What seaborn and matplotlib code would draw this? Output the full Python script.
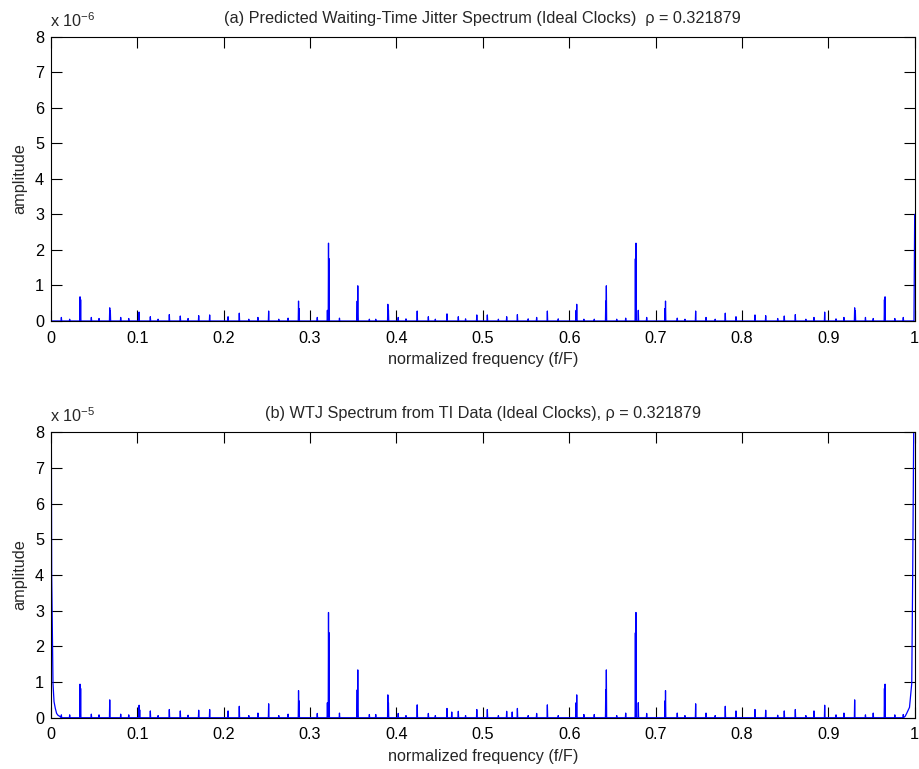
import numpy as np
import pandas as pd
import matplotlib
matplotlib.use("Agg")
import matplotlib.pyplot as plt
import seaborn as sns

RHO = 0.321879

# (a) predicted spectrum: spike frequencies (f/F) and amplitudes (units of 1e-6)
freq_a = [0.0120, 0.0216, 0.0336, 0.0343, 0.0467, 0.0556, 0.0680, 0.0687, 0.0807, 0.0900,
          0.1020, 0.1150, 0.1240, 0.1370, 0.1497, 0.1587, 0.1710, 0.1837, 0.2050, 0.2180,
          0.2290, 0.2396, 0.2520, 0.2637, 0.2745, 0.2866, 0.2873, 0.3083, 0.3200, 0.3213,
          0.3220, 0.3340, 0.3545, 0.3552, 0.3686, 0.3760, 0.3900, 0.3907, 0.4020, 0.4110,
          0.4240, 0.4369, 0.4450, 0.4585, 0.4716, 0.4800, 0.4930, 0.5052, 0.5180, 0.5276,
          0.5400, 0.5525, 0.5623, 0.5747, 0.5873, 0.6080, 0.6087, 0.6170, 0.6290, 0.6423,
          0.6430, 0.6550, 0.6654, 0.6766, 0.6773, 0.6800, 0.6897, 0.7108, 0.7115, 0.7251,
          0.7340, 0.7464, 0.7584, 0.7690, 0.7807, 0.7931, 0.8151, 0.8275, 0.8414, 0.8490,
          0.8618, 0.8740, 0.8834, 0.8958, 0.9089, 0.9181, 0.9305, 0.9313, 0.9430, 0.9520,
          0.9650, 0.9657, 0.9770, 0.9868]
amp_a = [0.10, 0.05, 0.68, 0.60, 0.10, 0.07, 0.37, 0.28, 0.10, 0.07,
         0.25, 0.12, 0.05, 0.18, 0.14, 0.07, 0.15, 0.17, 0.12, 0.22,
         0.05, 0.10, 0.28, 0.05, 0.08, 0.56, 0.35, 0.10, 0.30, 2.19,
         1.75, 0.08, 0.56, 0.99, 0.05, 0.05, 0.47, 0.30, 0.10, 0.06,
         0.28, 0.12, 0.05, 0.20, 0.12, 0.06, 0.17, 0.17, 0.05, 0.12,
         0.18, 0.06, 0.10, 0.28, 0.06, 0.30, 0.47, 0.05, 0.05, 0.56,
         0.99, 0.05, 0.08, 1.75, 2.19, 0.30, 0.10, 0.35, 0.56, 0.08,
         0.05, 0.28, 0.10, 0.05, 0.22, 0.12, 0.17, 0.15, 0.07, 0.14,
         0.18, 0.05, 0.10, 0.25, 0.06, 0.10, 0.37, 0.28, 0.10, 0.07,
         0.60, 0.68, 0.07, 0.10]
# value in the last bin (f/F = 1)
edge_a_freq = [0.9992, 1.0]
edge_a_amp = [0.0, 3.0]

# (b) spectrum from TI data: spike frequencies and amplitudes (units of 1e-5)
freq_b = [0.0120, 0.0216, 0.0336, 0.0343, 0.0467, 0.0556, 0.0680, 0.0807, 0.0900, 0.1020,
          0.1027, 0.1150, 0.1240, 0.1370, 0.1497, 0.1587, 0.1710, 0.1837, 0.2050, 0.2180,
          0.2290, 0.2396, 0.2520, 0.2637, 0.2745, 0.2866, 0.2873, 0.3083, 0.3200, 0.3213,
          0.3220, 0.3340, 0.3545, 0.3552, 0.3686, 0.3760, 0.3900, 0.3907, 0.4020, 0.4110,
          0.4240, 0.4369, 0.4450, 0.4585, 0.4640, 0.4716, 0.4800, 0.4930, 0.5052, 0.5180,
          0.5276, 0.5340, 0.5400, 0.5525, 0.5623, 0.5747, 0.5873, 0.6080, 0.6087, 0.6170,
          0.6290, 0.6423, 0.6430, 0.6550, 0.6654, 0.6766, 0.6773, 0.6800, 0.6897, 0.7108,
          0.7115, 0.7251, 0.7340, 0.7464, 0.7584, 0.7690, 0.7807, 0.7931, 0.8151, 0.8275,
          0.8414, 0.8490, 0.8618, 0.8740, 0.8834, 0.8958, 0.9089, 0.9181, 0.9305, 0.9430,
          0.9520, 0.9650, 0.9657, 0.9770, 0.9868]
amp_b = [0.08, 0.08, 0.94, 0.82, 0.10, 0.08, 0.50, 0.10, 0.08, 0.35,
         0.22, 0.19, 0.06, 0.23, 0.19, 0.07, 0.21, 0.23, 0.19, 0.32,
         0.06, 0.13, 0.39, 0.06, 0.10, 0.76, 0.47, 0.12, 0.42, 2.95,
         2.38, 0.13, 0.78, 1.34, 0.09, 0.09, 0.64, 0.42, 0.12, 0.06,
         0.36, 0.12, 0.06, 0.26, 0.16, 0.18, 0.06, 0.23, 0.23, 0.06,
         0.18, 0.16, 0.26, 0.06, 0.12, 0.36, 0.06, 0.42, 0.64, 0.09,
         0.09, 0.78, 1.34, 0.06, 0.13, 2.38, 2.95, 0.42, 0.12, 0.47,
         0.76, 0.13, 0.06, 0.39, 0.13, 0.06, 0.32, 0.19, 0.23, 0.21,
         0.07, 0.19, 0.23, 0.06, 0.19, 0.35, 0.08, 0.13, 0.50, 0.08,
         0.13, 0.82, 0.94, 0.08, 0.09]
# low-frequency (DC) leakage at both ends of the band
dc_left_freq = [0.0, 0.0008, 0.0023, 0.0035, 0.0050, 0.0065, 0.0080, 0.0100]
dc_left_amp = [12.0, 4.0, 0.96, 0.45, 0.26, 0.12, 0.07, 0.04]
dc_right_freq = [0.9890, 0.9907, 0.9940, 0.9966, 0.9977, 1.0]
dc_right_amp = [0.04, 0.12, 0.29, 0.96, 4.0, 12.0]

x_ticks = [0, 0.1, 0.2, 0.3, 0.4, 0.5, 0.6, 0.7, 0.8, 0.9, 1]
x_tick_labels = ["0", "0.1", "0.2", "0.3", "0.4", "0.5", "0.6", "0.7", "0.8", "0.9", "1"]
y_ticks = [0, 1, 2, 3, 4, 5, 6, 7, 8]

title_a = "(a) Predicted Waiting-Time Jitter Spectrum (Ideal Clocks)  \u03c1 = %.6f" % RHO
title_b = "(b) WTJ Spectrum from TI Data (Ideal Clocks), \u03c1 = %.6f" % RHO

FS = 11.7


def spectrum_trace(freqs, amps, head=None, tail=None, half_width=0.00035):
    """Join spikes into one continuous trace that returns to the floor between bins."""
    pts = []
    if head is not None:
        pts.extend(zip(*head))
    for f, a in zip(freqs, amps):
        pts.append((f - half_width, 0.0))
        pts.append((f, a))
        pts.append((f + half_width, 0.0))
    if tail is not None:
        pts.extend(zip(*tail))
    pts.sort(key=lambda p: p[0])
    return pd.DataFrame(pts, columns=["freq", "amp"])


sns.set_theme(style="white")
plt.rcParams["font.family"] = ["Liberation Sans", "DejaVu Sans"]
plt.rcParams["mathtext.fontset"] = "custom"
plt.rcParams["mathtext.rm"] = "Liberation Sans"
plt.rcParams["mathtext.it"] = "Liberation Sans:italic"
plt.rcParams["mathtext.bf"] = "Liberation Sans:bold"

fig = plt.figure(figsize=(9.19, 7.69), dpi=100, facecolor="white")
ax_a = fig.add_axes([0.0555, 0.5826, 0.9398, 0.3697])
ax_b = fig.add_axes([0.0555, 0.0667, 0.9398, 0.3711])

df_a = spectrum_trace(freq_a, amp_a, head=([0.0], [0.0]), tail=(edge_a_freq, edge_a_amp))
df_b = spectrum_trace(freq_b, amp_b, head=(dc_left_freq, dc_left_amp),
                      tail=(dc_right_freq, dc_right_amp))

panels = [(ax_a, df_a, title_a, "-6"), (ax_b, df_b, title_b, "-5")]
for ax, df, title, expo in panels:
    sns.lineplot(data=df, x="freq", y="amp", ax=ax, color="#0000ff", linewidth=0.9,
                 estimator=None, sort=False, legend=False)
    ax.set_xlim(0, 1)
    ax.set_ylim(0, 8)
    ax.set_xticks(x_ticks)
    ax.set_xticklabels(x_tick_labels)
    ax.set_yticks(y_ticks)
    ax.tick_params(axis="both", which="both", direction="in", length=8, width=0.8,
                   colors="black", labelsize=FS, top=True, right=True,
                   bottom=True, left=True)
    ax.tick_params(axis="x", pad=7)
    ax.tick_params(axis="y", pad=5)
    for side in ["top", "bottom", "left", "right"]:
        ax.spines[side].set_visible(True)
        ax.spines[side].set_color("black")
        ax.spines[side].set_linewidth(0.8)
    ax.set_xlabel("normalized frequency (f/F)", fontsize=FS, labelpad=4.5)
    ax.set_ylabel("amplitude", fontsize=FS, labelpad=5.5)
    ax.set_title(title, fontsize=FS, pad=10)
    ax.text(-0.001, 1.025, r"x 10$^{\mathrm{%s}}$" % expo, transform=ax.transAxes,
            fontsize=FS, ha="left", va="bottom")
    ax.grid(False)

fig.savefig("out.png", dpi=100, facecolor="white")
